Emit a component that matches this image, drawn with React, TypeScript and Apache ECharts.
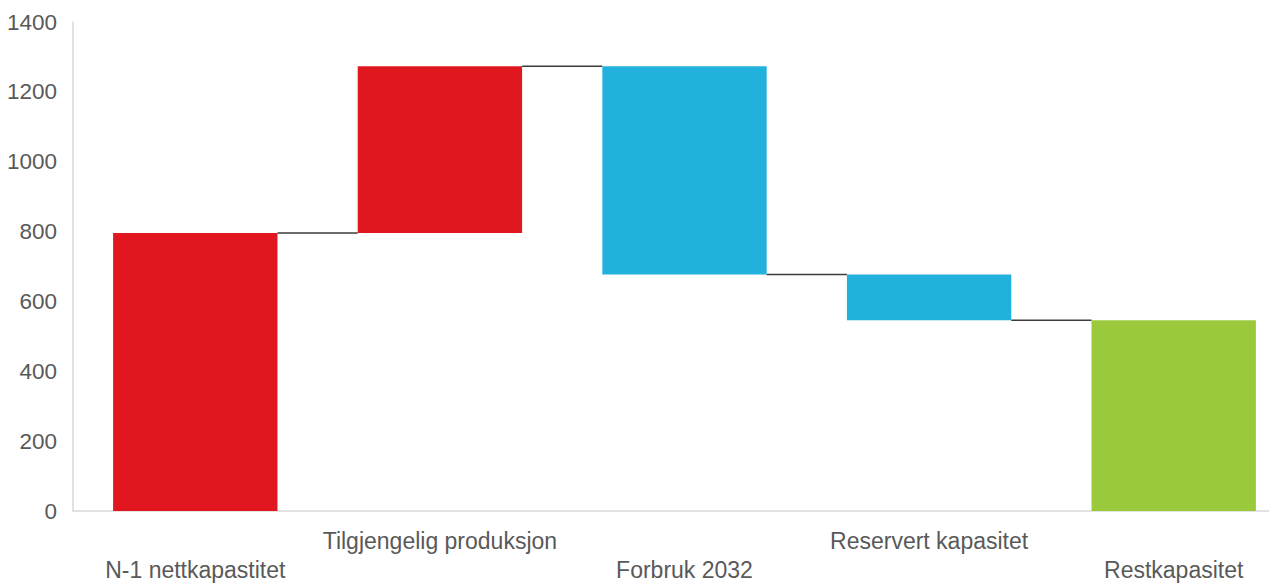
import React, { useEffect, useRef } from "react";
import * as echarts from "echarts";

const categories = [
  "N-1 nettkapastitet",
  "Tilgjengelig produksjon",
  "Forbruk 2032",
  "Reservert kapasitet",
  "Restkapasitet",
];
// bottom and top of each floating bar
const barLow = [0, 796, 677, 546, 0];
const barHigh = [796, 1273, 1273, 677, 546];
const barColors = ["#e0171f", "#e0171f", "#22b0dc", "#22b0dc", "#9bc93c"];
// connector levels between bar i and bar i+1
const connectorLevels = [796, 1273, 677, 546];
const yTicks = { min: 0, max: 1400, interval: 200 };

export default function App() {
  const ref = useRef<HTMLDivElement>(null);
  useEffect(() => {
    document.body.style.margin = "0";
    if (!ref.current) return;
    const chart = echarts.init(ref.current, null, { renderer: "svg" });
    const barWidthRatio = 0.672;
    chart.setOption({
      animation: false,
      backgroundColor: "#ffffff",
      grid: { left: 73, top: 22, bottom: 70, right: 4, containLabel: false },
      xAxis: {
        type: "category",
        data: categories,
        axisLine: { show: true, lineStyle: { color: "#d9d9d9", width: 1.5 } },
        axisTick: { show: false },
        axisLabel: {
          interval: 0,
          hideOverlap: false,
          margin: 15,
          color: "#595959",
          fontSize: 23,
          fontFamily: "Liberation Sans, Arial, sans-serif",
          lineHeight: 29,
          formatter: (v: string, i: number) => (i % 2 === 0 ? "\n" + v : v),
        },
        splitLine: { show: false },
      },
      yAxis: {
        type: "value",
        min: yTicks.min,
        max: yTicks.max,
        interval: yTicks.interval,
        axisLine: { show: true, lineStyle: { color: "#d9d9d9", width: 1.5 } },
        axisTick: { show: false },
        splitLine: { show: false },
        axisLabel: {
          margin: 16,
          color: "#595959",
          fontSize: 22.5,
          fontFamily: "Liberation Sans, Arial, sans-serif",
          formatter: (v: number) => String(v),
        },
      },
      series: [
        {
          type: "bar",
          stack: "wf",
          barWidth: barWidthRatio * 100 + "%",
          itemStyle: { color: "transparent" },
          data: barLow,
          silent: true,
        },
        {
          type: "bar",
          stack: "wf",
          barWidth: barWidthRatio * 100 + "%",
          data: barHigh.map((h, i) => ({
            value: h - barLow[i],
            itemStyle: { color: barColors[i] },
          })),
        },
        {
          type: "custom",
          data: connectorLevels.map((lv, i) => [i, lv]),
          renderItem: (params: any, api: any) => {
            const i = api.value(0);
            const y = api.value(1);
            const p0 = api.coord([i, y]);
            const p1 = api.coord([i + 1, y]);
            const w = api.size([1, 0])[0] * barWidthRatio;
            return {
              type: "line",
              shape: { x1: p0[0] + w / 2, y1: p0[1], x2: p1[0] - w / 2, y2: p1[1] },
              style: { stroke: "#3c3c3c", lineWidth: 1.5 },
            };
          },
          z: 3,
        },
      ],
    });
    return () => chart.dispose();
  }, []);
  return (
    <div style={{ width: 1269, height: 584, overflow: "hidden", position: "relative" }}>
      <div ref={ref} style={{ width: 1300, height: 584 }} />
    </div>
  );
}
